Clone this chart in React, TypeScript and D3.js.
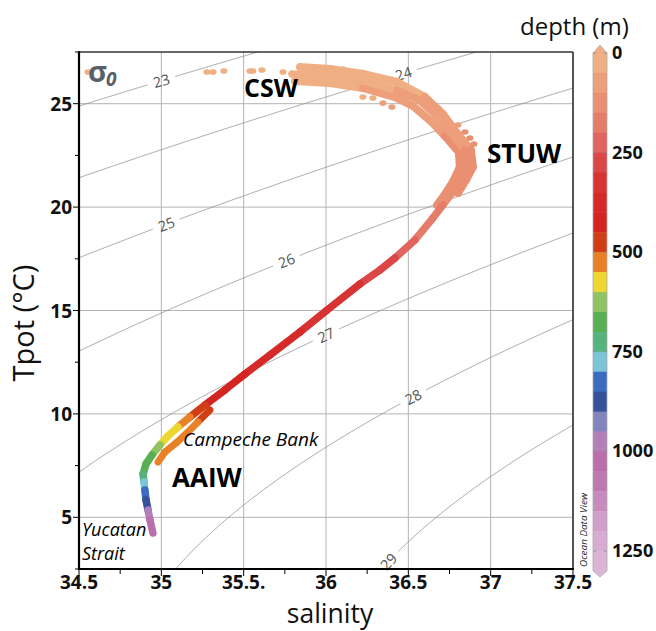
import React from 'react';
import * as d3 from 'd3';

// ---------- axes ----------
const xTicks = [34.5, 35, 35.5, 36, 36.5, 37, 37.5];
const xTickLabels = ['34.5', '35', '35.5.', '36', '36.5', '37', '37.5'];
const yTicks = [5, 10, 15, 20, 25];
const sigmaLevels = [23, 24, 25, 26, 27, 28, 29];
const sigmaLabelS = [35.0, 36.47, 35.03, 35.76, 36.0, 36.53, 36.38];
const depthTicks = [0, 250, 500, 750, 1000, 1250];

// ---------- colour map (depth, m) ----------
const paletteDepth = [0, 60, 120, 180, 240, 300, 420, 470, 500, 530, 555, 580, 610, 650, 700, 735, 760, 790, 825, 870, 910, 950, 990, 1050, 1120, 1200, 1300];
const paletteColor = ['#f2b888', '#eea27c', '#ea9172', '#e57a68', '#df5c5a', '#d83838', '#d52222', '#cf3a16', '#cc5210', '#ef8a2a', '#f0b030', '#ece030', '#a8cc68', '#66b454', '#4aa852', '#5cb890', '#9ed4c8', '#5eb4e6', '#3a6cc0', '#2e4a98', '#6a78b2', '#a89acb', '#b86eae', '#bb70ab', '#c68abc', '#d6a8d0', '#dcb8d8'];

// ---------- data: main cast (surface to bottom) ----------
const mainSal = [35.793, 36.024, 36.224, 36.431, 36.564, 36.674, 36.759, 36.844, 36.85, 36.813, 36.765, 36.71, 36.649, 36.54, 36.419, 36.328, 36.206, 36.006, 35.842, 35.66, 35.508, 35.386, 35.265, 35.174, 35.101, 35.04, 34.992, 34.943, 34.907, 34.889, 34.895, 34.9, 34.907, 34.919, 34.931, 34.949];
const mainTemp = [26.44, 26.34, 26.10, 25.66, 25.18, 24.41, 23.58, 22.76, 21.94, 21.31, 20.68, 20.10, 19.47, 18.41, 17.54, 16.96, 16.28, 15.02, 13.96, 12.85, 11.93, 11.16, 10.43, 9.85, 9.37, 8.93, 8.5, 8.01, 7.58, 7.09, 6.71, 6.32, 5.84, 5.35, 4.87, 4.24];
const mainDepth = [5, 15, 30, 45, 60, 75, 85, 100, 110, 120, 135, 150, 170, 200, 240, 270, 290, 330, 355, 375, 395, 420, 460, 505, 540, 575, 605, 645, 680, 715, 760, 790, 850, 930, 990, 1080];

// ---------- data: outer upper-layer cast ----------
const outerSal = [35.842, 36.024, 36.224, 36.431, 36.601, 36.71, 36.795, 36.88, 36.892, 36.85, 36.801];
const outerTemp = [26.77, 26.68, 26.44, 26.05, 25.32, 24.5, 23.58, 22.76, 21.94, 21.31, 20.68];
const outerDepth = [5, 12, 25, 40, 55, 70, 85, 95, 105, 115, 130];

// ---------- data: inner upper-layer cast ----------
const innerSal = [35.811, 36.024, 36.224, 36.419, 36.528, 36.637, 36.722, 36.807, 36.813, 36.777, 36.728, 36.674];
const innerTemp = [26.10, 26.0, 25.76, 25.32, 24.89, 24.16, 23.44, 22.66, 21.94, 21.31, 20.68, 20.10];
const innerDepth = [20, 30, 45, 60, 75, 85, 95, 105, 115, 125, 140, 150];

// ---------- data: Campeche Bank cast ----------
const campSal = [35.295, 35.222, 35.156, 35.089, 35.022, 34.98];
const campTemp = [10.19, 9.61, 9.08, 8.59, 8.16, 7.67];
const campDepth = [480, 515, 525, 530, 535, 540];

// ---------- data: scattered bottle samples ----------
const dotSal = [34.555, 35.277, 35.314, 35.38, 35.538, 35.556, 35.611, 35.739, 36.103, 36.224, 36.285, 36.346, 36.40, 36.68, 36.74, 36.801, 36.844, 36.874, 36.898];
const dotTemp = [26.53, 26.53, 26.53, 26.58, 26.58, 26.58, 26.63, 26.53, 26.68, 25.32, 25.27, 25.03, 24.84, 24.79, 24.16, 23.97, 23.63, 23.34, 23.05];
const dotDepth = [0, 2, 2, 3, 3, 3, 2, 4, 5, 40, 45, 50, 55, 70, 80, 90, 100, 110, 115];

// ---------- geometry ----------
const W = 656, H = 631;
const L = 79, R = 573, T = 52, B = 569;
const FONT = "'Open Sans', 'Liberation Sans', sans-serif";

const x = d3.scaleLinear().domain([34.5, 37.5]).range([L, R]);
const y = d3.scaleLinear().domain([2.5, 27.5]).range([B, T]);
const cy = d3.scaleLinear().domain([0, 1250]).range([53, 551]);

const contColor = d3.scaleLinear<string>().domain(paletteDepth).range(paletteColor).interpolate(d3.interpolateRgb).clamp(true);
const STEP = 50;
const depthColor = (d: number) => contColor(Math.floor(d / STEP) * STEP + STEP / 2);

// UNESCO EOS-80 density at p = 0
function rho0(S: number, t: number) {
  const rw = 999.842594 + 6.793952e-2 * t - 9.09529e-3 * t * t + 1.001685e-4 * t ** 3 - 1.120083e-6 * t ** 4 + 6.536332e-9 * t ** 5;
  const A = 8.24493e-1 - 4.0899e-3 * t + 7.6438e-5 * t * t - 8.2467e-7 * t ** 3 + 5.3875e-9 * t ** 4;
  const Bc = -5.72466e-3 + 1.0227e-4 * t - 1.6546e-6 * t * t;
  const C = 4.8314e-4;
  return rw + A * S + Bc * Math.pow(S, 1.5) + C * S * S;
}
function tempFor(S: number, sig: number): number | null {
  let lo = -2, hi = 40;
  if (rho0(S, lo) - 1000 < sig) return null;
  if (rho0(S, hi) - 1000 > sig) return null;
  for (let i = 0; i < 50; i++) {
    const m = (lo + hi) / 2;
    if (rho0(S, m) - 1000 > sig) lo = m; else hi = m;
  }
  return (lo + hi) / 2;
}

const line = d3.line<[number, number]>().x(d => d[0]).y(d => d[1]);

function contours() {
  return sigmaLevels.map((sig, i) => {
    const ls = sigmaLabelS[i];
    const lt = tempFor(ls, sig) as number;
    const lx = x(ls), ly = y(lt);
    const t1 = tempFor(ls - 0.02, sig) as number, t2 = tempFor(ls + 0.02, sig) as number;
    const ang = Math.atan2(y(t2) - y(t1), x(ls + 0.02) - x(ls - 0.02)) * 180 / Math.PI;
    const segs: [number, number][][] = [];
    let cur: [number, number][] = [];
    for (let s = 34.3; s <= 37.7; s += 0.004) {
      const tt = tempFor(s, sig);
      if (tt === null) { if (cur.length) { segs.push(cur); cur = []; } continue; }
      const px = x(s), py = y(tt);
      if (Math.hypot(px - lx, py - ly) < 14) { if (cur.length) { segs.push(cur); cur = []; } continue; }
      cur.push([px, py]);
    }
    if (cur.length) segs.push(cur);
    return { sig, segs, lx, ly, ang };
  });
}

function castSegments(S: number[], Tt: number[], D: number[]) {
  const out: { x1: number; y1: number; x2: number; y2: number; c: string }[] = [];
  for (let i = 0; i < S.length - 1; i++) {
    out.push({ x1: x(S[i]), y1: y(Tt[i]), x2: x(S[i + 1]), y2: y(Tt[i + 1]), c: depthColor((D[i] + D[i + 1]) / 2) });
  }
  return out;
}

function Cast({ S, Tt, D, w }: { S: number[]; Tt: number[]; D: number[]; w: number }) {
  const segs = castSegments(S, Tt, D);
  return (
    <g>
      {segs.map((s, i) => (
        <line key={i} x1={s.x1} y1={s.y1} x2={s.x2} y2={s.y2} stroke={s.c} strokeWidth={w} strokeLinecap="round" />
      ))}
    </g>
  );
}

export default function App() {
  const cont = contours();
  const xMinor = d3.range(34.5, 37.501, 0.25);
  const yMinor = d3.range(2.5, 27.501, 2.5);
  const barSteps = d3.range(0, 1300, STEP);
  return (
    <svg width={W} height={H} style={{ position: 'absolute', left: 0, top: 0, background: '#fff' }} fontFamily={FONT}>
      <defs>
        <clipPath id="plotclip"><rect x={L} y={T} width={R - L} height={B - T} /></clipPath>
      </defs>
      <rect x={0} y={0} width={W} height={H} fill="#fff" />
      {/* grid */}
      <g stroke="#b4b4b4" strokeWidth={1}>
        {xTicks.map(t => <line key={'gx' + t} x1={x(t)} x2={x(t)} y1={T} y2={B} />)}
        {yTicks.map(t => <line key={'gy' + t} x1={L} x2={R} y1={y(t)} y2={y(t)} />)}
      </g>
      {/* density contours */}
      <g clipPath="url(#plotclip)" fill="none" stroke="#8c8c8c" strokeWidth={0.8}>
        {cont.map(c => c.segs.map((sg, j) => <path key={c.sig + '-' + j} d={line(sg) || ''} />))}
      </g>
      <g fill="#555" fontSize={14.5}>
        {cont.map(c => (
          <text key={'cl' + c.sig} x={c.lx} y={c.ly} textAnchor="middle" dominantBaseline="central" transform={`rotate(${c.ang} ${c.lx} ${c.ly})`}>{c.sig}</text>
        ))}
      </g>
      {/* data */}
      <g clipPath="url(#plotclip)">
        <Cast S={innerSal} Tt={innerTemp} D={innerDepth} w={8} />
        <Cast S={outerSal} Tt={outerTemp} D={outerDepth} w={8} />
        <Cast S={campSal} Tt={campTemp} D={campDepth} w={7} />
        <Cast S={mainSal} Tt={mainTemp} D={mainDepth} w={7.5} />
        {dotSal.map((s, i) => (
          <ellipse key={'d' + i} cx={x(s)} cy={y(dotTemp[i])} rx={3.6} ry={2.8} fill={depthColor(dotDepth[i])} />
        ))}
      </g>
      {/* frame */}
      <line x1={L} x2={R} y1={T} y2={T} stroke="#333" strokeWidth={1.6} />
      <line x1={R} x2={R} y1={T} y2={B} stroke="#333" strokeWidth={1.6} />
      <line x1={L} x2={L} y1={T - 0.8} y2={B + 1} stroke="#000" strokeWidth={2.2} />
      <line x1={L - 1} x2={R + 0.8} y1={B} y2={B} stroke="#000" strokeWidth={2.2} />
      {/* ticks */}
      <g stroke="#000" strokeWidth={1}>
        {xMinor.map(t => <line key={'xt' + t} x1={x(t)} x2={x(t)} y1={B} y2={B + (Math.abs(t * 2 - Math.round(t * 2)) < 1e-6 ? 7 : 5)} />)}
        {yMinor.map(t => <line key={'yt' + t} x1={L} x2={L - (Math.abs(t / 5 - Math.round(t / 5)) < 1e-6 ? 6 : 4)} y1={y(t)} y2={y(t)} />)}
      </g>
      <g fontSize={19} fontWeight="bold" fill="#111">
        {xTicks.map((t, i) => <text key={'xl' + t} x={x(t)} y={589} textAnchor="middle">{xTickLabels[i]}</text>)}
        {yTicks.map(t => <text key={'yl' + t} x={72} y={y(t) + 7} textAnchor="end">{t}</text>)}
      </g>
      {/* axis titles */}
      <text x={330} y={623} textAnchor="middle" fontSize={26.5} fill="#111">salinity</text>
      <text transform="translate(34 323) rotate(-90)" textAnchor="middle" fontSize={29} fill="#111">Tpot (°C)</text>
      {/* sigma label */}
      <text x={88} y={82} fill="#5a6068" fontSize={29} fontWeight="bold">σ</text>
      <text x={106} y={86} fill="#5a6068" fontSize={19} fontStyle="italic" fontWeight="bold">0</text>
      {/* annotations */}
      <g fill="#000" fontWeight="bold">
        <text x={244} y={97} fontSize={25}>CSW</text>
        <text x={487} y={163} fontSize={26}>STUW</text>
        <text x={172} y={487} fontSize={26}>AAIW</text>
      </g>
      <g fill="#000" fontStyle="italic">
        <text x={183} y={446} fontSize={19}>Campeche Bank</text>
        <text x={82} y={536} fontSize={18}>Yucatan</text>
        <text x={82} y={560} fontSize={18}>Strait</text>
      </g>
      <text transform="translate(587 530) rotate(-90)" textAnchor="middle" fontSize={9} fontStyle="italic" fill="#222" textLength={74} lengthAdjust="spacingAndGlyphs">Ocean Data View</text>
      {/* colour bar */}
      <g>
        {barSteps.map(d => (
          <rect key={'cb' + d} x={593} width={14} y={cy(d)} height={cy(d + STEP) - cy(d) + 0.5} fill={depthColor(d)} />
        ))}
        <path d={`M593,${cy(0) + 0.5} L600,45 L607,${cy(0) + 0.5} Z`} fill={depthColor(0)} />
        <path d={`M593,${cy(1300) - 0.5} L600,577 L607,${cy(1300) - 0.5} Z`} fill={depthColor(1290)} />
        <path d={`M593,${cy(0)} L600,45 L607,${cy(0)} L607,${cy(1300)} L600,577 L593,${cy(1300)} Z`} fill="none" stroke="#aaa" strokeWidth={0.8} />
        {depthTicks.map(d => (
          <g key={'ct' + d} stroke="#888" strokeWidth={0.8}>
            <line x1={593} x2={596} y1={cy(d)} y2={cy(d)} />
            <line x1={604} x2={607} y1={cy(d)} y2={cy(d)} />
          </g>
        ))}
        <g fontSize={18} fontWeight="bold" fill="#111">
          {depthTicks.map(d => <text key={'cbl' + d} x={612} y={cy(d) + 6}>{d}</text>)}
        </g>
      </g>
      <text x={520} y={35} fontSize={24} fill="#111">depth (m)</text>
    </svg>
  );
}
